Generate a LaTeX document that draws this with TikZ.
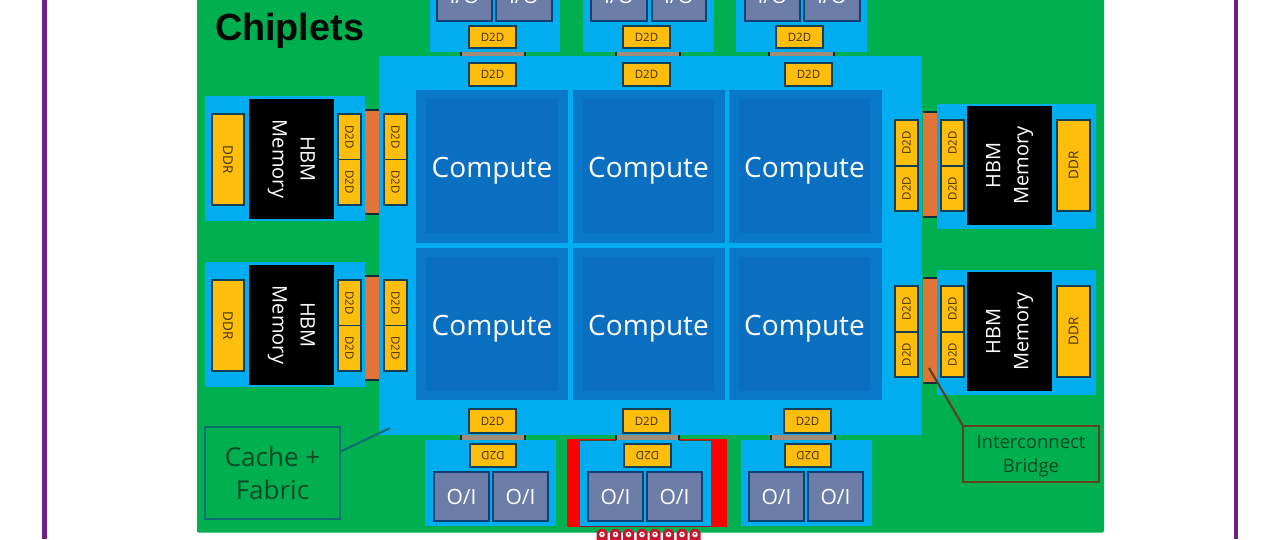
\documentclass[tikz,border=0pt]{standalone}
\usepackage{fontspec}
\setmainfont{Open Sans}
\newfontfamily\headfont{Liberation Sans}
\usetikzlibrary{calc}
\definecolor{pkggreen}{HTML}{00AF50}
\definecolor{cyanblue}{HTML}{00AEEF}
\definecolor{cellblue}{HTML}{0A78C9}
\definecolor{coreblue}{HTML}{0A6FC0}
\definecolor{amber}{HTML}{FFBD0C}
\definecolor{darkedge}{HTML}{123F55}
\definecolor{iogray}{HTML}{6C7DA8}
\definecolor{ioedge}{HTML}{0F3F73}
\definecolor{bridgeorange}{HTML}{E2743A}
\definecolor{bridgegray}{HTML}{A08C78}
\definecolor{framepurple}{HTML}{6F2080}
\definecolor{pinred}{HTML}{C8142D}
\definecolor{labelgreen}{HTML}{0A4A22}
\definecolor{cacheedge}{HTML}{0E6E72}
\definecolor{bridgeedge}{HTML}{5A4420}
\tikzset{
 boxbase/.style={inner sep=0pt,outer sep=0pt,align=center},
 plainfill/.style={boxbase,fill=#1},
 d2dbox/.style={boxbase,fill=amber,draw=darkedge,line width=1.7pt,font=\fontsize{11.5}{12}\selectfont,text=black!75!amber},
 ddrbox/.style={boxbase,fill=amber,draw=darkedge,line width=1.7pt,font=\fontsize{13.5}{14}\selectfont,text=black!75!amber},
 iobox/.style={boxbase,fill=iogray,draw=ioedge,line width=1.7pt,font=\fontsize{21}{24}\selectfont,text=white},
 hbmbox/.style={boxbase,fill=black,font=\fontsize{20}{24}\selectfont,text=white},
 computebox/.style={boxbase,fill=coreblue,font=\fontsize{28}{30}\selectfont,text=white,text height=28pt,text depth=6pt},
 bridgeH/.style={boxbase,fill=bridgegray},
 bridgeV/.style={boxbase,fill=bridgeorange},
 capline/.style={draw=darkedge!70!black,line width=1.2pt},
 calloutA/.style={boxbase,draw=cacheedge,line width=2.4pt,text=labelgreen,font=\fontsize{26}{33}\selectfont},
 calloutB/.style={boxbase,draw=bridgeedge,line width=2.4pt,text=labelgreen,font=\fontsize{18.5}{24}\selectfont},
}
% name, style, x0, y0, x1, y1, text
\newcommand{\pxbox}[7]{%
 \node[#2,minimum width={(#5)-(#3)},minimum height={(#6)-(#4)}] (#1) at ({((#3)+(#5))/2},{((#4)+(#6))/2}) {#7};}
\newcommand{\dn}[1]{\rotatebox{-90}{#1}}
\newcommand{\up}[1]{\rotatebox{90}{#1}}
\newcommand{\flipped}[1]{\rotatebox{180}{#1}}
\newcommand{\twolines}[2]{\begin{tabular}{@{}c@{}}#1\\[4pt]#2\end{tabular}}
\begin{document}
\begin{tikzpicture}[x=1pt,y=-1pt]
\useasboundingbox (0,0) rectangle (1280,539);
\clip (0,0) rectangle (1280,539);
\fill[white] (0,0) rectangle (1280,539);
\fill[framepurple] (42,0) rectangle (47,539);
\fill[framepurple] (1234,0) rectangle (1238,539);
\fill[pkggreen,rounded corners=1.5pt] (197,-10) rectangle (1104,532.5);
\node[boxbase,anchor=west,font=\headfont\bfseries\fontsize{37.8}{40}\selectfont,text=black!95!pkggreen] (title) at (215,31) {Chiplets};
% cache + fabric die
\pxbox{cache}{plainfill=cyanblue}{379}{56}{922}{435}{}
% compute cells
\foreach \n/\xa/\xb/\ya/\yb in {a/416/568/90/243,b/573/725/90/243,c/729/882/90/243,d/416/568/248/400,e/573/725/248/400,f/729/882/248/400}{
 \pxbox{cell\n}{plainfill=cellblue}{\xa}{\ya}{\xb}{\yb}{}
}
\pxbox{ca}{computebox}{426}{99}{558}{233}{Compute}
\pxbox{cb}{computebox}{583}{99}{714}{233}{Compute}
\pxbox{cc}{computebox}{739}{99}{870}{233}{Compute}
\pxbox{cd}{computebox}{426}{257}{558}{391}{Compute}
\pxbox{ce}{computebox}{583}{257}{714}{391}{Compute}
\pxbox{cf}{computebox}{739}{257}{870}{391}{Compute}
% top chiplets
\foreach \n/\xa/\xb/\da/\db/\ia/\ib/\ic/\id/\ba/\bb/\dca/\dcb in {
 a/430/560/469/516/437/492/496/552/461/525/469/516,
 b/583/714/623/670/591/647/652/706/616/680/623/670,
 c/736/867/776/823/745/800/804/860/769/834/785/832}{
 \pxbox{top\n}{plainfill=cyanblue}{\xa}{-30}{\xb}{52}{}
 \pxbox{topio\n}{iobox}{\ia}{-30}{\ib}{21}{I/O}
 \pxbox{topiob\n}{iobox}{\ic}{-30}{\id}{21}{I/O}
 \pxbox{topd\n}{d2dbox}{\da}{26}{\db}{48}{D2D}
 \pxbox{topbr\n}{bridgeH}{\ba}{52}{\bb}{56}{}
 \draw[capline] (topbr\n.north west) -- (topbr\n.south west);
 \draw[capline] (topbr\n.north east) -- (topbr\n.south east);
 \pxbox{topc\n}{d2dbox}{\dca}{63}{\dcb}{86}{D2D}
}
% bottom red frame behind middle chiplet
\pxbox{redframe}{plainfill=red}{567}{439}{727}{527}{}
\foreach \n/\xa/\xb/\da/\db/\ia/\ib/\ic/\id/\ba/\bb/\dca/\dcb in {
 a/425/556/470/516/434/489/493/548/461/525/469/516,
 b/580/711/624/671/588/643/647/702/616/679/623/670,
 c/741/872/785/831/749/804/808/863/771/835/784/831}{
 \pxbox{bot\n}{plainfill=cyanblue}{\xa}{440}{\xb}{526}{}
 \pxbox{botio\n}{iobox}{\ia}{472}{\ib}{521}{\rule{0pt}{17pt}O/I}
 \pxbox{botiob\n}{iobox}{\ic}{472}{\id}{521}{\rule{0pt}{17pt}O/I}
 \pxbox{botd\n}{d2dbox}{\da}{444}{\db}{467}{\flipped{D2D}}
 \pxbox{botbr\n}{bridgeH}{\ba}{435}{\bb}{440}{}
 \draw[capline] (botbr\n.north west) -- (botbr\n.south west);
 \draw[capline] (botbr\n.north east) -- (botbr\n.south east);
 \pxbox{botc\n}{d2dbox}{\dca}{409}{\dcb}{433}{D2D}
}
\draw[line width=1pt,bridgeedge] (botb.north west) -- (botbrb.south west);
\draw[line width=1pt,bridgeedge] (botbrb.south east) -- (botb.north east);
\draw[line width=1pt,pinred!70!black] (botb.south west) -- (botb.south east);
% solder pins
\foreach \i/\px in {1/602,2/615.5,3/628.5,4/642,5/655,6/668.5,7/682,8/695}{
 \fill[pinred] (\px-5.5,541) -- (\px-5.5,532) -- (\px-2,529) -- (\px+2,529) -- (\px+5.5,532) -- (\px+5.5,541) -- cycle;
 \fill[white] (\px,534.5) circle (2.8pt);
 \fill[pinred] (\px,534) circle (1.2pt);
}
% left HBM
\foreach \n/\dy in {a/0,b/166}{
 \pxbox{lblue\n}{plainfill=cyanblue}{205}{96+\dy}{365}{221+\dy}{}
 \pxbox{lhbm\n}{hbmbox}{249}{99+\dy}{334}{219+\dy}{\dn{\twolines{HBM}{Memory}}}
 \pxbox{lddr\n}{ddrbox}{212}{114+\dy}{244}{205+\dy}{\dn{DDR}}
 \pxbox{ld\n}{d2dbox}{338}{114+\dy}{361}{159.5+\dy}{\dn{D2D}}
 \pxbox{le\n}{d2dbox}{338}{159.5+\dy}{361}{205+\dy}{\dn{D2D}}
 \pxbox{lbr\n}{bridgeV}{365}{110+\dy}{379}{214+\dy}{}
 \draw[capline] (lbr\n.north west) -- (lbr\n.north east);
 \draw[capline] (lbr\n.south west) -- (lbr\n.south east);
 \pxbox{lf\n}{d2dbox}{384}{114+\dy}{407}{159.5+\dy}{\dn{D2D}}
 \pxbox{lg\n}{d2dbox}{384}{159.5+\dy}{407}{205+\dy}{\dn{D2D}}
}
% right HBM
\foreach \n/\dy in {a/0,b/166}{
 \pxbox{rblue\n}{plainfill=cyanblue}{937}{104+\dy}{1096}{229+\dy}{}
 \pxbox{rhbm\n}{hbmbox}{967}{106+\dy}{1052}{225+\dy}{\up{\twolines{HBM}{Memory}}}
 \pxbox{rddr\n}{ddrbox}{1057}{120+\dy}{1090}{211+\dy}{\up{DDR}}
 \pxbox{rd\n}{d2dbox}{941}{120+\dy}{964}{166+\dy}{\up{D2D}}
 \pxbox{re\n}{d2dbox}{941}{166+\dy}{964}{211+\dy}{\up{D2D}}
 \pxbox{rbr\n}{bridgeV}{923}{112+\dy}{937}{217+\dy}{}
 \draw[capline] (rbr\n.north west) -- (rbr\n.north east);
 \draw[capline] (rbr\n.south west) -- (rbr\n.south east);
 \pxbox{rf\n}{d2dbox}{895}{120+\dy}{918}{166+\dy}{\up{D2D}}
 \pxbox{rg\n}{d2dbox}{895}{166+\dy}{918}{211+\dy}{\up{D2D}}
}
% callouts
\pxbox{cachelabel}{calloutA}{205}{427}{340}{519}{Cache +\\Fabric}
\coordinate (cachetip) at (390,428);
\draw[cacheedge,line width=2.2pt] ($(cachelabel.north east)!0.27!(cachelabel.south east)$) -- (cachetip);
\pxbox{bridgelabel}{calloutB}{963}{426}{1099}{482}{\rule{0pt}{18pt}Interconnect\\Bridge}
\coordinate (bridgetip) at (929,368);
\draw[bridgeedge,line width=2.2pt] (bridgelabel.north west) -- (bridgetip);
\end{tikzpicture}
\end{document}
